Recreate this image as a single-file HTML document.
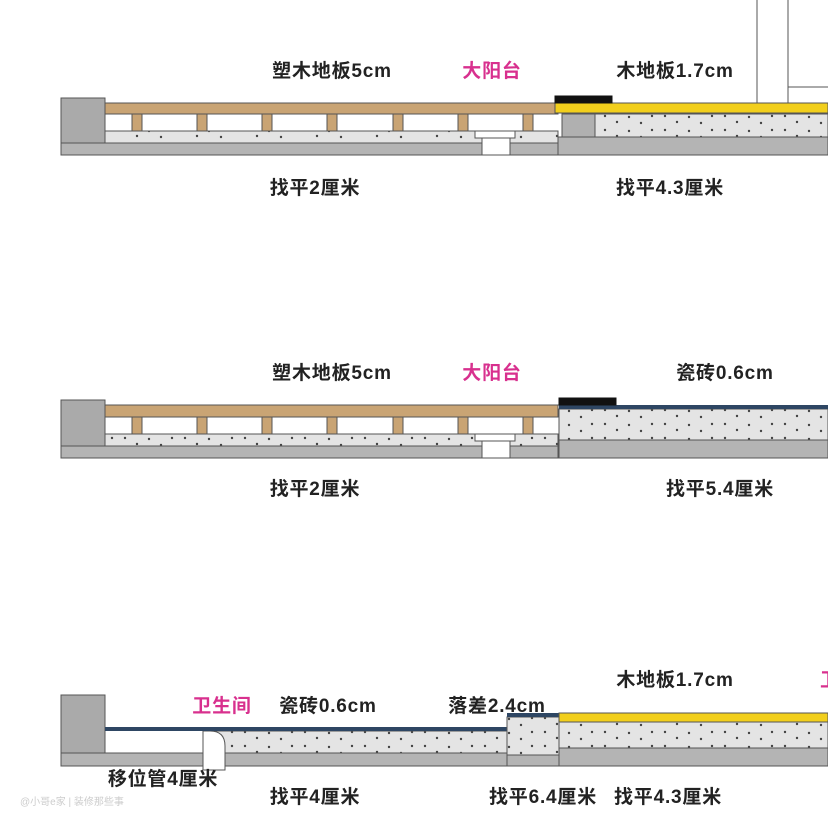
<!DOCTYPE html>
<html><head><meta charset="utf-8"><style>
html,body{margin:0;padding:0;background:#fff;}
svg{display:block;}
text{font-family:"Liberation Sans","Noto Sans CJK SC",sans-serif;font-weight:bold;font-size:19px;letter-spacing:0.8px;fill:#222;}
.m{fill:#d8308e;}
</style></head><body>
<svg width="828" height="828" viewBox="0 0 828 828" xmlns="http://www.w3.org/2000/svg">
<defs>
<pattern id="d" width="60" height="14" patternUnits="userSpaceOnUse">
<rect width="60" height="14" fill="#e4e4e4"/>
<circle cx="5" cy="4" r="1.2" fill="#444"/><circle cx="17" cy="10" r="1.2" fill="#444"/>
<circle cx="29" cy="5" r="1.2" fill="#444"/><circle cx="41" cy="11" r="1.2" fill="#444"/>
<circle cx="52" cy="4" r="1.2" fill="#444"/>
</pattern>
</defs>
<g stroke="#555" stroke-width="1">
<!-- Diagram 1 -->
<rect x="61" y="98" width="44" height="45" fill="#aaa"/>
<rect x="61" y="143" width="497" height="12" fill="#b4b4b4"/>
<rect x="105" y="131" width="453" height="12" fill="url(#d)"/>
<rect x="105" y="103" width="453" height="11" fill="#c9a474"/>
<g fill="#c9a474">
<rect x="132" y="114" width="10" height="17"/><rect x="197" y="114" width="10" height="17"/>
<rect x="262" y="114" width="10" height="17"/><rect x="327" y="114" width="10" height="17"/>
<rect x="393" y="114" width="10" height="17"/><rect x="458" y="114" width="10" height="17"/>
<rect x="523" y="114" width="10" height="17"/></g>
<rect x="475" y="131" width="40" height="7" fill="#fff"/>
<rect x="482" y="138" width="28" height="17" fill="#fff"/>
<rect x="558" y="137" width="270" height="18" fill="#b4b4b4"/>
<rect x="595" y="114" width="233" height="23" fill="url(#d)"/>
<rect x="562" y="114" width="33" height="23" fill="#b0b0b0"/>
<rect x="555" y="103" width="273" height="10" fill="#f2cf1c"/>
<rect x="555" y="96" width="57" height="7" fill="#111" stroke="#111"/>
<line x1="757" y1="0" x2="757" y2="103"/><line x1="788" y1="0" x2="788" y2="103"/>
<line x1="788" y1="87" x2="828" y2="87"/>

<!-- Diagram 2 -->
<rect x="61" y="400" width="44" height="46" fill="#aaa"/>
<rect x="61" y="446" width="497" height="12" fill="#b4b4b4"/>
<rect x="105" y="434" width="453" height="12" fill="url(#d)"/>
<rect x="105" y="405" width="453" height="12" fill="#c9a474"/>
<g fill="#c9a474">
<rect x="132" y="417" width="10" height="17"/><rect x="197" y="417" width="10" height="17"/>
<rect x="262" y="417" width="10" height="17"/><rect x="327" y="417" width="10" height="17"/>
<rect x="393" y="417" width="10" height="17"/><rect x="458" y="417" width="10" height="17"/>
<rect x="523" y="417" width="10" height="17"/></g>
<rect x="475" y="434" width="40" height="7" fill="#fff"/>
<rect x="482" y="441" width="28" height="17" fill="#fff"/>
<rect x="559" y="440" width="269" height="18" fill="#b4b4b4"/>
<rect x="559" y="409" width="269" height="31" fill="url(#d)"/>
<rect x="559" y="405" width="269" height="4" fill="#2e4663" stroke="none"/>
<rect x="559" y="398" width="57" height="7" fill="#111" stroke="#111"/>

<!-- Diagram 3 -->
<rect x="61" y="695" width="44" height="58" fill="#aaa"/>
<rect x="61" y="753" width="142" height="13" fill="#b4b4b4"/>
<rect x="225" y="753" width="282" height="13" fill="#b4b4b4"/>
<rect x="210" y="731" width="297" height="22" fill="url(#d)"/>
<path d="M203 731 L210 731 Q225 731 225 746 L225 770 L203 770 Z" fill="#fff"/>
<rect x="105" y="727" width="402" height="4" fill="#2e4663" stroke="none"/>
<rect x="507" y="755" width="52" height="11" fill="#b4b4b4"/>
<rect x="507" y="717" width="52" height="38" fill="url(#d)"/>
<rect x="507" y="713" width="52" height="4" fill="#2e4663" stroke="none"/>
<rect x="559" y="748" width="269" height="18" fill="#b4b4b4"/>
<rect x="559" y="722" width="269" height="26" fill="url(#d)"/>
<rect x="559" y="713" width="269" height="9" fill="#f2cf1c"/>
</g>

<text x="332" y="77" text-anchor="middle">塑木地板5cm</text>
<text x="492" y="77" text-anchor="middle" class="m">大阳台</text>
<text x="675" y="77" text-anchor="middle">木地板1.7cm</text>
<text x="315" y="194" text-anchor="middle">找平2厘米</text>
<text x="670" y="194" text-anchor="middle">找平4.3厘米</text>

<text x="332" y="379" text-anchor="middle">塑木地板5cm</text>
<text x="492" y="379" text-anchor="middle" class="m">大阳台</text>
<text x="725" y="379" text-anchor="middle">瓷砖0.6cm</text>
<text x="315" y="495" text-anchor="middle">找平2厘米</text>
<text x="720" y="495" text-anchor="middle">找平5.4厘米</text>

<text x="675" y="686" text-anchor="middle">木地板1.7cm</text>
<text x="222" y="712" text-anchor="middle" class="m">卫生间</text>
<text x="328" y="712" text-anchor="middle">瓷砖0.6cm</text>
<text x="497" y="712" text-anchor="middle">落差2.4cm</text>
<text x="163" y="785" text-anchor="middle">移位管4厘米</text>
<text x="315" y="803" text-anchor="middle">找平4厘米</text>
<text x="543" y="803" text-anchor="middle">找平6.4厘米</text>
<text x="668" y="803" text-anchor="middle">找平4.3厘米</text>
<text x="820" y="686" class="m">卫</text>
<text x="20" y="805" style="font-size:10px;letter-spacing:0;fill:#ccc;font-weight:normal">@小哥e家 | 装修那些事</text>
</svg>
</body></html>
